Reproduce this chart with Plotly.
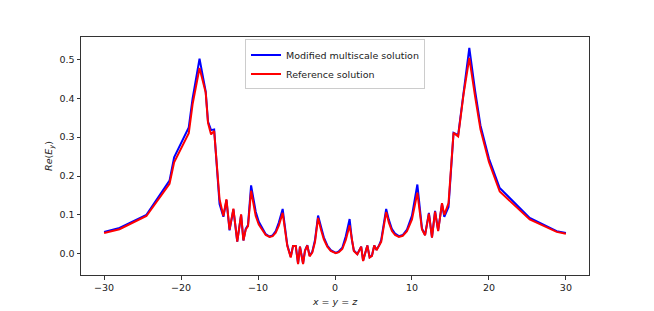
import plotly.graph_objects as go

# positions along the diagonal x = y = z
x_pos = [-30.0, -28.0, -24.5, -21.5, -20.9, -19.0, -18.5, -17.6, -16.8, -16.5,
         -16.1, -15.7, -15.0, -14.5, -14.1, -13.7, -13.2, -12.7, -12.2, -11.9,
         -11.6, -11.3, -10.9, -10.6, -10.3, -9.9, -9.4, -9.0, -8.5, -8.1,
         -7.7, -7.3, -6.8, -6.5, -6.2, -5.75, -5.45, -5.1, -4.8, -4.55,
         -4.15, -3.9, -3.6, -3.3, -2.95, -2.6, -2.2, -1.8, -1.45, -1.0,
         -0.55, 0.1, 0.5, 0.95, 1.4, 1.9, 2.2, 2.45, 2.9, 3.4,
         3.65, 4.2, 4.5, 4.8, 5.1, 5.4, 5.7, 6.0, 6.65, 7.0,
         7.4, 7.8, 8.3, 8.8, 9.35, 10.0, 10.7, 11.3, 11.7, 12.2,
         12.6, 13.0, 13.4, 13.9, 14.2, 14.75, 15.4, 16.0, 16.7, 17.45,
         18.2, 18.9, 20.0, 21.4, 25.3, 28.8, 30.0]

multiscale = [0.056, 0.066, 0.100, 0.188, 0.248, 0.325, 0.400, 0.502, 0.418, 0.340,
              0.318, 0.320, 0.128, 0.095, 0.138, 0.060, 0.114, 0.031, 0.100, 0.034,
              0.064, 0.074, 0.176, 0.140, 0.108, 0.082, 0.062, 0.050, 0.044, 0.047,
              0.058, 0.080, 0.115, 0.065, 0.022, -0.008, 0.020, 0.020, -0.025, 0.018,
              -0.025, 0.008, 0.022, -0.005, 0.005, 0.035, 0.098, 0.068, 0.042, 0.021,
              0.009, 0.002, 0.006, 0.015, 0.045, 0.089, 0.035, 0.008, -0.001, 0.018,
              -0.018, 0.021, -0.009, -0.005, 0.021, 0.010, 0.020, 0.035, 0.115, 0.087,
              0.063, 0.052, 0.045, 0.048, 0.062, 0.098, 0.178, 0.065, 0.048, 0.105,
              0.042, 0.110, 0.060, 0.128, 0.095, 0.120, 0.311, 0.305, 0.420, 0.530,
              0.420, 0.330, 0.245, 0.169, 0.092, 0.058, 0.053]

reference = [0.053, 0.063, 0.097, 0.180, 0.235, 0.310, 0.385, 0.478, 0.415, 0.337,
             0.307, 0.316, 0.140, 0.097, 0.140, 0.062, 0.116, 0.031, 0.101, 0.034,
             0.062, 0.071, 0.162, 0.125, 0.097, 0.075, 0.058, 0.048, 0.043, 0.045,
             0.054, 0.072, 0.105, 0.060, 0.020, -0.010, 0.020, 0.020, -0.027, 0.018,
             -0.027, 0.007, 0.021, -0.007, 0.003, 0.030, 0.092, 0.060, 0.037, 0.018,
             0.007, 0.001, 0.004, 0.012, 0.035, 0.073, 0.030, 0.007, -0.002, 0.018,
             -0.019, 0.021, -0.010, -0.006, 0.021, 0.009, 0.020, 0.030, 0.107, 0.080,
             0.058, 0.048, 0.043, 0.046, 0.058, 0.088, 0.157, 0.062, 0.047, 0.103,
             0.041, 0.108, 0.058, 0.130, 0.100, 0.130, 0.311, 0.302, 0.410, 0.504,
             0.405, 0.320, 0.236, 0.160, 0.088, 0.056, 0.051]

x_ticks = [-30, -20, -10, 0, 10, 20, 30]
y_ticks = [0.0, 0.1, 0.2, 0.3, 0.4, 0.5]

FONT = "DejaVu Sans"

fig = go.Figure()
fig.add_trace(go.Scatter(x=x_pos, y=multiscale, mode="lines",
                         name="Modified multiscale solution",
                         line=dict(color="#0000ff", width=2)))
fig.add_trace(go.Scatter(x=x_pos, y=reference, mode="lines",
                         name="Reference solution",
                         line=dict(color="#ff0000", width=2)))

axis_common = dict(showline=True, linecolor="#333333", linewidth=1, mirror=True,
                   ticks="outside", ticklen=3.5, tickwidth=0.8, tickcolor="#333333",
                   showgrid=False, zeroline=False,
                   tickfont=dict(family=FONT, size=9.5, color="#222222"))

fig.update_xaxes(range=[-33, 33], tickvals=x_ticks,
                 title=dict(text="<i>x</i> = <i>y</i> = <i>z</i>", standoff=6,
                            font=dict(family=FONT, size=9.5, color="#222222")),
                 **axis_common)
fig.update_yaxes(range=[-0.055, 0.558], tickvals=y_ticks, tickformat=".1f",
                 title=dict(text="<i>Re</i>(<i>E</i><sub><i>y</i></sub>)", standoff=5,
                            font=dict(family=FONT, size=9.5, color="#222222")),
                 **axis_common)

fig.update_layout(
    width=654, height=311,
    margin=dict(l=73, r=73, t=29, b=44),
    paper_bgcolor="white", plot_bgcolor="white",
    font=dict(family=FONT, size=9.5, color="#222222"),
    legend=dict(x=0.5, y=0.99, xanchor="center", yanchor="top",
                bgcolor="rgba(255,255,255,0.8)", bordercolor="#cccccc", borderwidth=1,
                font=dict(family=FONT, size=9.5, color="#222222"),
                itemwidth=30, tracegroupgap=0),
    showlegend=True,
)

fig.write_html("out.html")
